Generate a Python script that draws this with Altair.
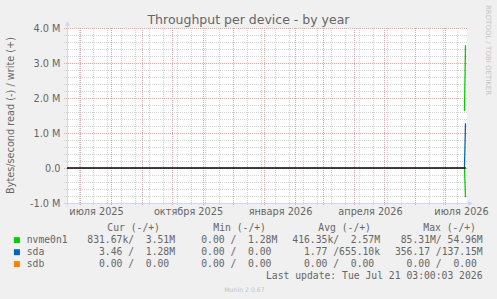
import altair as alt
import numpy as np
import pandas as pd

# ---------------- data ----------------
TITLE = "Throughput per device - by year"
Y_TITLE = "Bytes/second read (-) / write (+)"
WATERMARK_RIGHT = "RRDTOOL / TOBI OETIKER"
WATERMARK_BOTTOM = "Munin 2.0.67"
LAST_UPDATE = "Last update: Tue Jul 21 03:00:03 2026"

DEVICES = ["nvme0n1", "sda", "sdb"]
DEVICE_COLORS = ["#00CC00", "#0066B3", "#FF8000"]

SAMPLE_TIMES = ["2026-07-20T12:00:00Z", "2026-07-21T12:00:00Z"]
NVME_READ = [1030, 831670]
NVME_WRITE = [1630000, 3510000]
SDA_READ = [0.08, 3.46]
SDA_WRITE = [30200, 1280000]
SDB_READ = [0, 0]
SDB_WRITE = [0, 0]

LEGEND_HEADERS = ["Cur (-/+)", "Min (-/+)", "Avg (-/+)", "Max (-/+)"]
CUR = ["831.67k/  3.51M", "  3.46 /  1.28M", "  0.00 /  0.00 "]
MIN = ["  0.00 /  1.28M", "  0.00 /  0.00 ", "  0.00 /  0.00 "]
AVG = ["416.35k/  2.57M", "  1.77 /655.10k", "  0.00 /  0.00 "]
MAX = [" 85.31M/ 54.96M", "356.17 /137.15M", "  0.00 /  0.00 "]

Y_TICKS = [-1e6, 0, 1e6, 2e6, 3e6, 4e6]
Y_MIN, Y_MAX = -1e6, 4e6
X_START = "2025-06-18T00:00:00Z"
X_END = "2026-07-23T00:00:00Z"
X_LABEL_MONTHS = ["2025-07-01T00:00:00Z", "2025-10-01T00:00:00Z", "2026-01-01T00:00:00Z",
                  "2026-04-01T00:00:00Z", "2026-07-01T00:00:00Z"]
MONTHS_RU = ["января", "февраля", "марта", "апреля", "мая", "июня", "июля",
             "августа", "сентября", "октября", "ноября", "декабря"]

# ---------------- layout / style ----------------
W, H = 400, 175
OX, OY = 67, 28
FONT = "DejaVu Sans"
MONO = "DejaVu Sans Mono"
FS = 9.72
CW = 0.602 * FS  # monospace character width
FONT_COLOR = "#666666"
AXIS_COLOR = "#CFD6F8"
GRID_COLOR = "#D4D4D4"
MGRID_COLOR = "#E2A4A4"


def ms(s):
    return int(pd.Timestamp(s).value // 10**6)


xscale = alt.Scale(type="utc", domain=[ms(X_START), ms(X_END)])
yscale = alt.Scale(domain=[Y_MIN, Y_MAX], nice=False, zero=False)

months_js = "[" + ",".join("'%s'" % m for m in MONTHS_RU) + "]"
AX_X = alt.Axis(values=[ms(s) for s in X_LABEL_MONTHS],
                labelExpr=months_js + "[utcmonth(datum.value)] + ' ' + utcyear(datum.value)",
                labelOffset=16, labelFlush=False, labelOverlap=False, labelBound=False,
                ticks=False, tickSize=0, domain=False, grid=False, title=None,
                labelFont=FONT, labelFontSize=FS, labelColor=FONT_COLOR,
                labelBaseline="alphabetic", labelPadding=11.5)
AX_Y = alt.Axis(values=Y_TICKS,
                labelExpr="datum.value == 0 ? '0.0' : (datum.value < 0 ? '-' : '') + format(abs(datum.value) / 1000000, '.1f') + ' M'",
                ticks=False, tickSize=0, domain=False, grid=False, title=None,
                labelFont=FONT, labelFontSize=FS, labelColor=FONT_COLOR, labelPadding=7)


def X(field):
    return alt.X(field, type="temporal", scale=xscale, axis=AX_X, title=None)


def Y(field):
    return alt.Y(field, type="quantitative", scale=yscale, axis=AX_Y, title=None)


# grid
minor_v = pd.DataFrame({"d": [d.strftime("%Y-%m-%dT%H:%M:%SZ") for d in
                              pd.date_range("2025-06-30", "2026-07-20", freq="14D")]})
major_v = pd.DataFrame({"d": [d.strftime("%Y-%m-%dT%H:%M:%SZ") for d in
                              pd.date_range("2025-07-01", "2026-07-01", freq="MS")]})
minor_h = pd.DataFrame({"v": [v for v in np.arange(-1.0, 4.01, 0.2) * 1e6
                              if abs(v / 1e6 - round(v / 1e6)) > 1e-6]})
major_h = pd.DataFrame({"v": Y_TICKS})

g_minor_v = alt.Chart(minor_v).mark_rule(color=GRID_COLOR, strokeDash=[1, 1], strokeWidth=1, xOffset=0.5).encode(
    x=X("d"), y=alt.value(0), y2=alt.value(H + 3))
g_minor_h = alt.Chart(minor_h).mark_rule(color=GRID_COLOR, strokeDash=[1, 1], strokeWidth=1, yOffset=0.5).encode(
    y=Y("v"), x=alt.value(-3), x2=alt.value(W))
g_major_v = alt.Chart(major_v).mark_rule(color=MGRID_COLOR, strokeDash=[1, 1], strokeWidth=1, xOffset=0.5).encode(
    x=X("d"), y=alt.value(0), y2=alt.value(H + 3))
g_major_h = alt.Chart(major_h).mark_rule(color=MGRID_COLOR, strokeDash=[1, 1], strokeWidth=1, yOffset=0.5).encode(
    y=Y("v"), x=alt.value(-3), x2=alt.value(W))

# axis lines with arrows
one = pd.DataFrame({"k": [0]})
ax_left = alt.Chart(one).mark_rule(color=AXIS_COLOR, strokeWidth=1).encode(
    x=alt.value(0.5), y=alt.value(-4), y2=alt.value(H + 3))
ax_bottom = alt.Chart(one).mark_rule(color=AXIS_COLOR, strokeWidth=1).encode(
    y=alt.value(H + 0.5), x=alt.value(-3), x2=alt.value(W + 2))
arrow_up = alt.Chart(one).mark_point(shape="triangle-up", filled=True, color=AXIS_COLOR, size=28, opacity=1).encode(
    x=alt.value(0.5), y=alt.value(-4.5))
arrow_right = alt.Chart(one).mark_point(shape="triangle-right", filled=True, color=AXIS_COLOR, size=28, opacity=1).encode(
    x=alt.value(W + 3.5), y=alt.value(H + 0.5))

# series
reads = [NVME_READ, SDA_READ, SDB_READ]
writes = [NVME_WRITE, SDA_WRITE, SDB_WRITE]
rows = []
for dev, rd, wr in zip(DEVICES, reads, writes):
    for t, r, w in zip(SAMPLE_TIMES, rd, wr):
        rows.append({"t": t, "value": -r, "dev": dev, "key": dev + " read"})
        rows.append({"t": t, "value": w, "dev": dev, "key": dev + " write"})
series = pd.DataFrame(rows)

series_layers = []
for dev, col in zip(DEVICES, DEVICE_COLORS):
    series_layers.append(
        alt.Chart(series).transform_filter(alt.datum.dev == dev)
        .mark_line(color=col, strokeWidth=1.3)
        .encode(x=X("t"), y=Y("value"), detail="key:N")
    )

zero = pd.DataFrame({"t0": [X_START], "t1": [SAMPLE_TIMES[-1]], "v": [0]})
zero_line = alt.Chart(zero).mark_rule(color="#000000", strokeWidth=1.3).encode(
    x=X("t0"), x2="t1", y=Y("v"))

# texts


def txt(s, x, y, **kw):
    return alt.Chart(pd.DataFrame({"s": [s]})).mark_text(**kw).encode(
        text="s:N", x=alt.value(x - OX), y=alt.value(y - OY))


texts = [
    txt(TITLE, 248.5, 24, font=FONT, fontSize=12.5, color=FONT_COLOR, align="center", baseline="alphabetic"),
    txt(Y_TITLE, 11, 115.5, font=FONT, fontSize=FS, color=FONT_COLOR, align="center", baseline="middle", angle=270),
    txt(WATERMARK_RIGHT, 488, 5, font=FONT, fontSize=7, color="#C4C4C4", align="left", baseline="middle", angle=90),
    txt(WATERMARK_BOTTOM, 244.5, 291.5, font=FONT, fontSize=6.2, color="#C4C4C4", align="center", baseline="alphabetic"),
    txt(LAST_UPDATE.replace(" ", "\u00a0"), 482.5, 279, font=MONO, fontSize=FS, color=FONT_COLOR, align="right", baseline="alphabetic"),
]

# legend table (leading blanks become an x shift, inner blanks non-breaking)
NB = "\u00a0"
header_x = [107.3, 213.3, 318.3, 423.3]
col_x = [87.3, 189.5, 292.3, 394.9]
row_base = [243.2, 255.2, 267.1]


def cell(s, x, y):
    lead = len(s) - len(s.lstrip(" "))
    return {"s": s.strip(" ").replace(" ", NB), "x": x + lead * CW - OX, "y": y - OY}


cells = []
for hx, h in zip(header_x, LEGEND_HEADERS):
    cells.append(cell(h, hx, 231))
for i, dev in enumerate(DEVICES):
    cells.append(cell(dev, 26.7, row_base[i]))
    for cx, vals in zip(col_x, [CUR, MIN, AVG, MAX]):
        cells.append(cell(vals[i], cx, row_base[i]))
cells = pd.DataFrame(cells)
legend_text = alt.Chart(cells).mark_text(font=MONO, fontSize=FS, color=FONT_COLOR, align="left",
                                         baseline="alphabetic").encode(
    text="s:N", x=alt.X("x:Q", scale=None), y=alt.Y("y:Q", scale=None))

boxes = pd.DataFrame({"dev": DEVICES, "x": [16.9 - OX] * 3, "y": [r - 3.0 - OY for r in row_base]})
legend_boxes = alt.Chart(boxes).mark_square(size=36, opacity=1).encode(
    x=alt.X("x:Q", scale=None), y=alt.Y("y:Q", scale=None),
    color=alt.Color("dev:N", scale=alt.Scale(domain=DEVICES, range=DEVICE_COLORS), legend=None))

chart = alt.layer(
    g_minor_v, g_minor_h, g_major_v, g_major_h,
    ax_left, ax_bottom, arrow_up, arrow_right,
    *series_layers, zero_line,
    *texts, legend_text, legend_boxes,
).properties(
    width=W, height=H, autosize="none",
    padding={"left": OX, "top": OY, "right": 497 - OX - W, "bottom": 299 - OY - H},
).configure(background="#F0F0F0").configure_view(fill="white", strokeWidth=0)

chart.save("out.html", embed_options={"renderer": "svg", "actions": False})
